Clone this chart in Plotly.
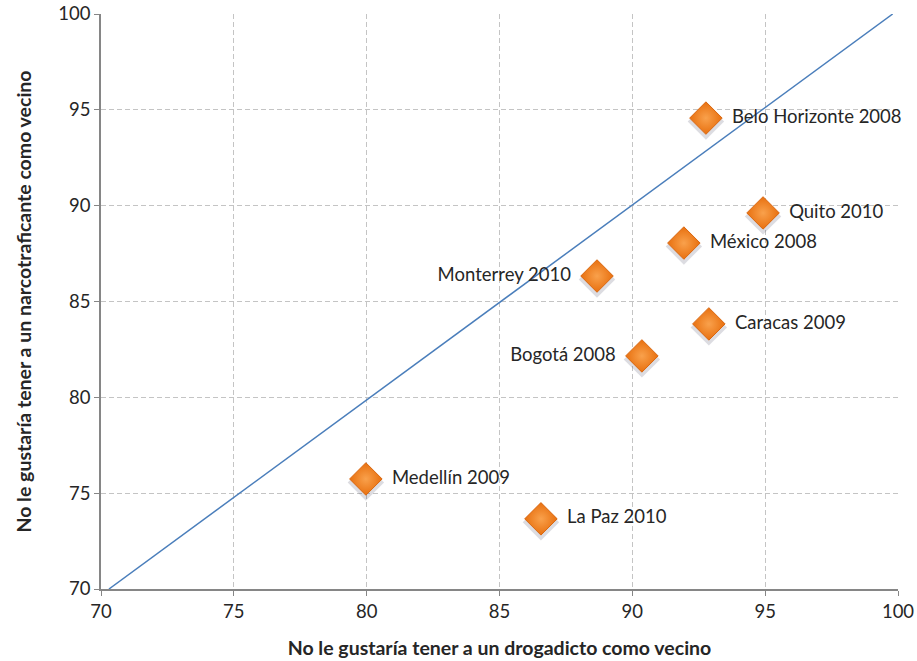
import plotly.graph_objects as go

cities = ["Belo Horizonte 2008", "Quito 2010", "México 2008", "Monterrey 2010",
          "Caracas 2009", "Bogotá 2008", "Medellín 2009", "La Paz 2010"]
drogadicto = [92.77, 94.92, 91.94, 88.67, 92.88, 90.36, 79.97, 86.56]
narcotraficante = [94.57, 89.62, 88.05, 86.33, 83.83, 82.16, 75.74, 73.66]
label_side = ["middle right", "middle right", "middle right", "middle left",
              "middle right", "middle left", "middle right", "middle right"]

ref_x = [70.3, 99.8]
ref_y = [70, 100]

x_ticks = [70, 75, 80, 85, 90, 95, 100]
y_ticks = [70, 75, 80, 85, 90, 95, 100]

FONT = "Lato, 'Open Sans', sans-serif"
shadow_dy = 0.18

fig = go.Figure()
fig.add_trace(go.Scatter(
    x=ref_x, y=ref_y, mode="lines",
    line=dict(color="#4A7EBB", width=1.5), hoverinfo="skip", showlegend=False))
# soft shadow under markers
fig.add_trace(go.Scatter(
    x=drogadicto, y=[v - shadow_dy for v in narcotraficante], mode="markers",
    marker=dict(symbol="diamond", size=28, color="rgba(60,60,90,0.18)",
                line=dict(width=0)),
    hoverinfo="skip", showlegend=False))
fig.add_trace(go.Scatter(
    x=drogadicto, y=narcotraficante, mode="markers+text",
    text=["  " + c + "  " for c in cities], textposition=label_side,
    textfont=dict(family=FONT, size=18.5, color="#262626"),
    marker=dict(symbol="diamond", size=25, color="#E8700F",
                line=dict(color="#D9660F", width=1),
                gradient=dict(type="radial", color="#F9A14C")),
    showlegend=False, cliponaxis=False))

axis_common = dict(
    showgrid=True, gridcolor="#C4C4C4", griddash="5px,3px", gridwidth=1,
    showline=True, linecolor="#868686", linewidth=1.5,
    ticks="outside", ticklen=5, tickcolor="#868686",
    tickfont=dict(family=FONT, size=18.5, color="#262626"),
    zeroline=False, mirror=False, automargin=False,
)

fig.update_xaxes(range=[70, 100], tickvals=x_ticks, ticktext=[str(v) for v in x_ticks],
                 title=dict(text="<b>No le gustaría tener a un drogadicto como vecino</b>",
                            font=dict(family=FONT, size=19.5, color="#262626"), standoff=20),
                 **axis_common)
fig.update_yaxes(range=[70, 100], tickvals=y_ticks, ticktext=[str(v) for v in y_ticks],
                 title=dict(text="<b>No le gustaría tener a un narcotraficante como vecino</b>",
                            font=dict(family=FONT, size=19.5, color="#262626"), standoff=22),
                 **axis_common)

fig.update_layout(
    width=917, height=661,
    margin=dict(l=101, r=19, t=14, b=72),
    paper_bgcolor="white", plot_bgcolor="white",
    font=dict(family=FONT),
)

fig.write_html("out.html", config={"displayModeBar": False},
               post_script="document.body.style.margin='0';document.body.style.overflow='hidden';")
